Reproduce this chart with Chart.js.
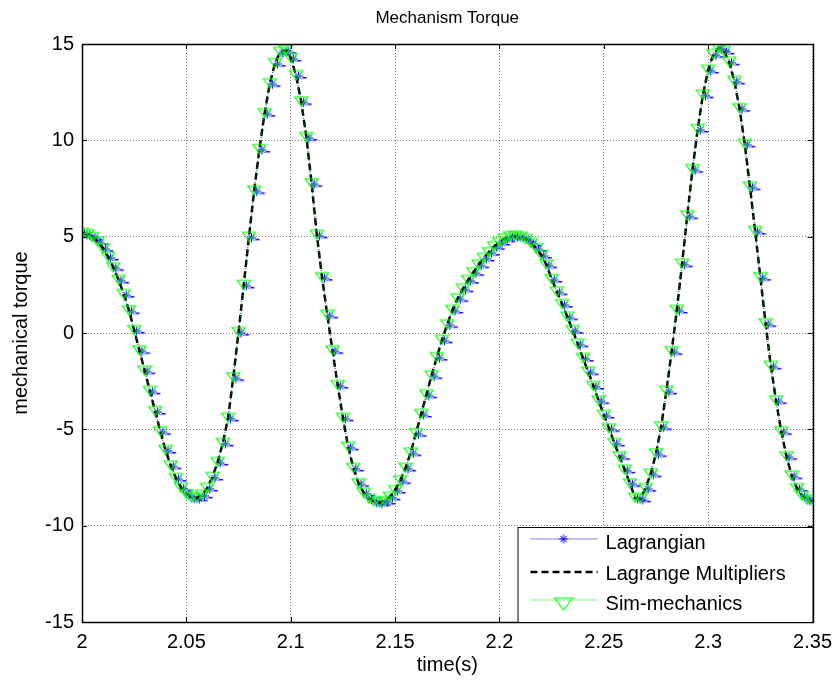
<!DOCTYPE html>
<html>
<head>
<meta charset="utf-8">
<script src="https://cdn.jsdelivr.net/npm/chart.js@4.4.0/dist/chart.umd.min.js"></script>
<style>
  html, body { margin: 0; padding: 0; background: #fff; }
  #wrap { width: 840px; height: 682px; }
</style>
</head>
<body>
<div id="wrap"><canvas id="myChart" width="840" height="682"></canvas></div>
<script>
// sample instants (s)
const time = [
  2.0000, 2.0025, 2.0050, 2.0075, 2.0100, 2.0125, 2.0150, 2.0175, 2.0200, 2.0225,
  2.0250, 2.0275, 2.0300, 2.0325, 2.0350, 2.0375, 2.0400, 2.0425, 2.0450, 2.0475,
  2.0500, 2.0525, 2.0550, 2.0575, 2.0600, 2.0625, 2.0650, 2.0675, 2.0700, 2.0725,
  2.0750, 2.0775, 2.0800, 2.0825, 2.0850, 2.0875, 2.0900, 2.0925, 2.0950, 2.0975,
  2.1000, 2.1025, 2.1050, 2.1075, 2.1100, 2.1125, 2.1150, 2.1175, 2.1200, 2.1225,
  2.1250, 2.1275, 2.1300, 2.1325, 2.1350, 2.1375, 2.1400, 2.1425, 2.1450, 2.1475,
  2.1500, 2.1525, 2.1550, 2.1575, 2.1600, 2.1625, 2.1650, 2.1675, 2.1700, 2.1725,
  2.1750, 2.1775, 2.1800, 2.1825, 2.1850, 2.1875, 2.1900, 2.1925, 2.1950, 2.1975,
  2.2000, 2.2025, 2.2050, 2.2075, 2.2100, 2.2125, 2.2150, 2.2175, 2.2200, 2.2225,
  2.2250, 2.2275, 2.2300, 2.2325, 2.2350, 2.2375, 2.2400, 2.2425, 2.2450, 2.2475,
  2.2500, 2.2525, 2.2550, 2.2575, 2.2600, 2.2625, 2.2650, 2.2675, 2.2700, 2.2725,
  2.2750, 2.2775, 2.2800, 2.2825, 2.2850, 2.2875, 2.2900, 2.2925, 2.2950, 2.2975,
  2.3000, 2.3025, 2.3050, 2.3075, 2.3100, 2.3125, 2.3150, 2.3175, 2.3200, 2.3225,
  2.3250, 2.3275, 2.3300, 2.3325, 2.3350, 2.3375, 2.3400, 2.3425, 2.3450, 2.3475,
  2.3500
];

// mechanical torque
const torque = [
  5.20, 5.12, 4.98, 4.75, 4.40, 3.95, 3.41, 2.76, 2.02, 1.17,
  0.15, -0.90, -1.95, -3.00, -4.05, -5.10, -6.07, -6.88, -7.53, -8.03,
  -8.36, -8.54, -8.55, -8.40, -8.04, -7.47, -6.69, -5.70, -4.40, -2.30,
  0.05, 2.50, 5.00, 7.40, 9.55, 11.41, 12.96, 14.01, 14.59, 14.68,
  14.28, 13.39, 12.02, 10.17, 7.77, 5.10, 2.90, 0.95, -0.90, -2.70,
  -4.40, -5.90, -7.00, -7.80, -8.30, -8.60, -8.75, -8.80, -8.72, -8.50,
  -8.15, -7.65, -7.00, -6.20, -5.20, -4.20, -3.20, -2.20, -1.25, -0.35,
  0.45, 1.20, 1.80, 2.30, 2.75, 3.15, 3.55, 3.90, 4.20, 4.50,
  4.72, 4.90, 5.02, 5.05, 5.00, 4.88, 4.68, 4.40, 4.05, 3.55,
  2.80, 2.15, 1.50, 0.85, 0.15, -0.55, -1.30, -2.00, -2.75, -3.50,
  -4.25, -4.95, -5.70, -6.40, -7.10, -7.80, -8.55, -8.60, -8.05, -7.30,
  -6.25, -4.85, -3.00, -0.95, 1.20, 3.60, 6.10, 8.50, 10.59, 12.37,
  13.66, 14.47, 14.80, 14.64, 14.08, 13.09, 11.67, 9.82, 7.60, 5.30,
  2.90, 0.50, -1.70, -3.50, -5.10, -6.40, -7.40, -8.05, -8.45, -8.65,
  -8.70
];

const seriesNames = ['Lagrangian', 'Lagrange Multipliers', 'Sim-mechanics'];
const chartTitle = 'Mechanism Torque';

const pts = time.map((t, i) => ({ x: t, y: torque[i] }));

// blue '*' marker, sitting a little right/below like in the original
function makeStar(big) {
  let c = document.createElement('canvas');
  c.width = 24; c.height = 24;
  let g = c.getContext('2d');
  let cx = big ? 12 : 14.5, cy = big ? 12 : 13, r = 4.5;
  g.strokeStyle = '#0000ff';
  g.lineWidth = 1;
  g.beginPath();
  g.moveTo(cx - r, cy); g.lineTo(cx + r, cy);
  g.moveTo(cx, cy - r); g.lineTo(cx, cy + r);
  let d = r * 0.7;
  g.moveTo(cx - d, cy - d); g.lineTo(cx + d, cy + d);
  g.moveTo(cx - d, cy + d); g.lineTo(cx + d, cy - d);
  g.stroke();
  if (!big) {
    g.fillStyle = '#0000ff';
    g.fillRect(cx + 4, cy + 1, 4, 1.5);
  }
  return c;
}

// hollow green triangle pointing down (a bit flatter than chart.js' own)
function makeTri(w, h) {
  let c = document.createElement('canvas');
  c.width = w + 4; c.height = h + 4;
  let g = c.getContext('2d');
  g.strokeStyle = '#00ff00';
  g.lineWidth = 1.2;
  g.beginPath();
  g.moveTo(2, 2); g.lineTo(w + 2, 2); g.lineTo(w / 2 + 2, h + 2);
  g.closePath();
  g.stroke();
  return c;
}

const star = makeStar(false);
const starLegend = makeStar(true);
const tri = makeTri(13, 9);
const triLegend = makeTri(18, 12);

const fontName = '"Liberation Sans", Arial, sans-serif';

// axes box with inward ticks (matlab look) + title centred on the axes
const framePlugin = {
  id: 'frame',
  afterDatasetsDraw(chart) {
    let ctx = chart.ctx, a = chart.chartArea;
    let xs = chart.scales.x, ys = chart.scales.y;
    ctx.save();
    ctx.strokeStyle = '#000';
    ctx.lineWidth = 1;
    ctx.setLineDash([]);
    ctx.beginPath();
    xs.ticks.forEach(tk => {
      let px = Math.round(xs.getPixelForValue(tk.value)) + 0.5;
      ctx.moveTo(px, a.bottom); ctx.lineTo(px, a.bottom - 5);
      ctx.moveTo(px, a.top); ctx.lineTo(px, a.top + 5);
    });
    ys.ticks.forEach(tk => {
      let py = Math.round(ys.getPixelForValue(tk.value)) + 0.5;
      ctx.moveTo(a.left, py); ctx.lineTo(a.left + 5, py);
      ctx.moveTo(a.right, py); ctx.lineTo(a.right - 5, py);
    });
    ctx.stroke();
    ctx.lineWidth = 1.5;
    ctx.strokeRect(Math.round(a.left) + 0.5, Math.round(a.top) + 0.5,
      Math.round(a.right - a.left), Math.round(a.bottom - a.top));
    ctx.fillStyle = '#000';
    ctx.font = '17px ' + fontName;
    ctx.textAlign = 'center';
    ctx.textBaseline = 'middle';
    ctx.fillText(chartTitle, (a.left + a.right) / 2, 18);
    ctx.restore();
  }
};

// legend box in the lower right corner
const legendPlugin = {
  id: 'boxLegend',
  afterDraw(chart) {
    let ctx = chart.ctx, a = chart.chartArea;
    let w = 295, h = 95;
    let x0 = a.right - w, y0 = a.bottom - h;
    ctx.save();
    ctx.fillStyle = '#fff';
    ctx.fillRect(x0, y0, w, h);
    ctx.strokeStyle = '#000';
    ctx.lineWidth = 1;
    ctx.strokeRect(x0 + 0.5, y0 + 0.5, w, h);
    let rows = [y0 + 16, y0 + 47, y0 + 77];
    let lx1 = x0 + 13, lx2 = x0 + 80, mx = x0 + 46;
    // Lagrangian
    ctx.strokeStyle = '#0000ff'; ctx.lineWidth = 1; ctx.setLineDash([1, 1]);
    ctx.beginPath(); ctx.moveTo(lx1, rows[0] - 4); ctx.lineTo(lx2, rows[0] - 4); ctx.stroke();
    ctx.drawImage(starLegend, mx - 12, rows[0] - 4 - 12);
    // Lagrange Multipliers
    ctx.strokeStyle = '#000'; ctx.lineWidth = 2.5; ctx.setLineDash([7, 4]);
    ctx.beginPath(); ctx.moveTo(lx1, rows[1] - 2); ctx.lineTo(lx2, rows[1] - 2); ctx.stroke();
    // Sim-mechanics
    ctx.strokeStyle = '#00ff00'; ctx.lineWidth = 1; ctx.setLineDash([1, 1]);
    ctx.beginPath(); ctx.moveTo(lx1, rows[2] - 4); ctx.lineTo(lx2, rows[2] - 4); ctx.stroke();
    ctx.setLineDash([]);
    ctx.drawImage(triLegend, mx - triLegend.width / 2, rows[2] - 6 - 2);
    ctx.fillStyle = '#000';
    ctx.font = '20px ' + fontName;
    ctx.textBaseline = 'middle';
    ctx.textAlign = 'left';
    seriesNames.forEach((n, i) => ctx.fillText(n, x0 + 88, rows[i]));
    ctx.restore();
  }
};

const ctx = document.getElementById('myChart').getContext('2d');

let myChart = new Chart(ctx, {
  type: 'line',
  data: {
    datasets: [{
      label: seriesNames[0],
      data: pts,
      borderColor: '#0000ff',
      borderWidth: 1,
      borderDash: [1, 2],
      pointStyle: star,
      pointRadius: 5,
      order: 3
    }, {
      label: seriesNames[1],
      data: pts,
      borderColor: '#000',
      borderWidth: 2.5,
      borderDash: [7, 4],
      pointRadius: 0,
      order: 2
    }, {
      label: seriesNames[2],
      data: pts,
      borderColor: '#00ff00',
      borderWidth: 0.6,
      borderDash: [1, 2],
      pointStyle: tri,
      pointRadius: 6.5,
      order: 1
    }]
  },
  options: {
    responsive: false,
    animation: false,
    layout: { padding: { left: 0, right: 23, top: 44, bottom: 0 } },
    plugins: {
      legend: { display: false },
      tooltip: { enabled: false },
      title: { display: false }
    },
    scales: {
      x: {
        type: 'linear',
        min: 2,
        max: 2.35,
        ticks: {
          stepSize: 0.05,
          color: '#000',
          padding: 8,
          maxRotation: 0,
          font: { family: fontName, size: 20 },
          callback: (v) => String(+v.toFixed(2))
        },
        grid: { color: 'rgba(0,0,0,0.5)', lineWidth: 1, drawTicks: false },
        border: { display: false, dash: [1, 2] },
        title: {
          display: true,
          text: 'time(s)',
          color: '#000',
          font: { family: fontName, size: 20 },
          padding: { top: 5, bottom: 5 }
        },
        afterFit: (s) => { s.height = 60; }
      },
      y: {
        min: -15,
        max: 15,
        ticks: {
          stepSize: 5,
          color: '#000',
          padding: 8,
          font: { family: fontName, size: 20 }
        },
        grid: { color: 'rgba(0,0,0,0.5)', lineWidth: 1, drawTicks: false },
        border: { display: false, dash: [1, 2] },
        title: {
          display: true,
          text: 'mechanical torque',
          color: '#000',
          font: { family: fontName, size: 20 },
          padding: { top: 9, bottom: 9 }
        },
        afterFit: (s) => { s.width = 82; }
      }
    }
  },
  plugins: [framePlugin, legendPlugin]
});
</script>
</body>
</html>
